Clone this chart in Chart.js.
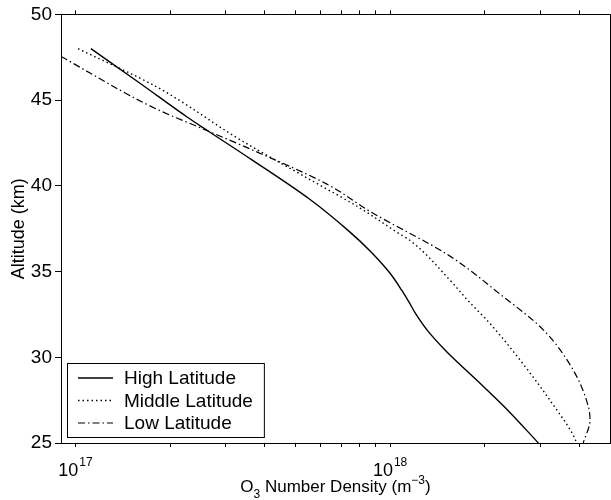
<!DOCTYPE html>
<html>
<head>
<meta charset="utf-8">
<script src="https://cdn.jsdelivr.net/npm/chart.js@4.4.1/dist/chart.umd.min.js"></script>
<style>
    body { margin: 0; background: #fff; }
    #wrap { width: 611px; height: 500px; }
</style>
</head>
<body>
<div id="wrap"><canvas id="ozone-chart" width="611" height="500"></canvas></div>
<script>
// Ozone profiles: altitude (km) and O3 number density (m^-3)
var highAlt = [48.0, 46.0, 44.0, 43.2, 41.5, 39.2, 37.3, 36.2, 34.9, 33.9, 33.2, 32.5, 31.6, 30.4, 28.3, 26.9, 25.0];
var highDensity = [1.12e17, 1.60e17, 2.27e17, 2.64e17, 3.65e17, 5.57e17, 7.46e17, 8.64e17, 1.00e18, 1.09e18, 1.15e18, 1.21e18, 1.31e18, 1.50e18, 1.98e18, 2.37e18, 2.96e18];

var midAlt = [48.0, 45.8, 42.6, 40.5, 38.7, 37.3, 36.8, 34.5, 33.3, 32.0, 29.6, 27.5, 25.3, 25.0];
var midDensity = [1.02e17, 1.80e17, 3.40e17, 5.40e17, 8.03e17, 1.05e18, 1.16e18, 1.55e18, 1.77e18, 2.07e18, 2.65e18, 3.22e18, 3.86e18, 3.91e18];

var lowAlt = [47.55, 47.35, 44.5, 43.2, 42.0, 40.1, 38.5, 35.9, 33.7, 31.6, 29.25, 27.1, 26.35, 25.0];
var lowDensity = [9.0e16, 9.4e16, 1.80e17, 2.64e17, 3.75e17, 6.3e17, 8.65e17, 1.55e18, 2.23e18, 3.07e18, 3.82e18, 4.27e18, 4.32e18, 4.11e18];

var seriesLabels = ['High Latitude', 'Middle Latitude', 'Low Latitude'];

// axis ticks
var xTickMarks = [1e17, 2e17, 3e17, 4e17, 5e17, 6e17, 7e17, 8e17, 9e17, 1e18, 2e18, 3e18, 4e18];
var xTickLabels = [1e17, 1e18];
var xTickExponents = ['17', '18'];
var yTickValues = [25, 30, 35, 40, 45, 50];

var FONT = "'Liberation Sans', Arial, Helvetica, sans-serif";

function toPoints(xs, ys) {
    var pts = [];
    for (var i = 0; i < xs.length; i++) {
        pts.push({ x: xs[i], y: ys[i] });
    }
    return pts;
}

function setTicks(values) {
    return function(scale) {
        scale.ticks = values.map(function(v) { return { value: v }; });
    };
}

// draws the superscript tick labels, axis titles and the boxed legend
var labelsPlugin = {
    id: 'labelsPlugin',
    afterDraw: function(chart) {
        var ctx = chart.ctx;
        var area = chart.chartArea;
        var xs = chart.scales.x;
        ctx.save();
        ctx.fillStyle = '#000';
        ctx.strokeStyle = '#000';
        ctx.textBaseline = 'alphabetic';
        ctx.textAlign = 'left';

        // 10^n tick labels
        for (var i = 0; i < xTickLabels.length; i++) {
            var px = xs.getPixelForValue(xTickLabels[i]);
            ctx.font = '18px ' + FONT;
            var w1 = ctx.measureText('10').width;
            ctx.font = '12px ' + FONT;
            var w2 = ctx.measureText(xTickExponents[i]).width;
            var left = px - (w1 + w2 + 1) / 2;
            ctx.font = '18px ' + FONT;
            ctx.fillText('10', left, 476);
            ctx.font = '12px ' + FONT;
            ctx.fillText(xTickExponents[i], left + w1 + 1, 466);
        }

        // x axis title with sub/superscripts
        var pieces = [
            { t: 'O', size: 17, dy: 0 },
            { t: '3', size: 12, dy: 6 },
            { t: ' Number Density (m', size: 17, dy: 0 },
            { t: '\u22123', size: 12, dy: -8 },
            { t: ')', size: 17, dy: 0 }
        ];
        var total = 0;
        pieces.forEach(function(p) {
            ctx.font = p.size + 'px ' + FONT;
            p.w = ctx.measureText(p.t).width;
            total += p.w;
        });
        var tx = (area.left + area.right) / 2 - total / 2;
        pieces.forEach(function(p) {
            ctx.font = p.size + 'px ' + FONT;
            ctx.fillText(p.t, tx, 492 + p.dy);
            tx += p.w;
        });

        // y axis title
        ctx.save();
        ctx.translate(19, (area.top + area.bottom) / 2);
        ctx.rotate(-Math.PI / 2);
        ctx.textAlign = 'center';
        ctx.textBaseline = 'middle';
        ctx.font = '18px ' + FONT;
        ctx.fillText('Altitude (km)', 0, 0);
        ctx.restore();

        // legend
        var rowsY = [378, 400.5, 423];
        ctx.font = '19px ' + FONT;
        var maxW = 0;
        chart.data.datasets.forEach(function(ds) {
            maxW = Math.max(maxW, ctx.measureText(ds.label).width);
        });
        var boxLeft = 67, boxTop = 363, boxBottom = 437;
        var textX = 124;
        var boxW = textX + maxW + 11 - boxLeft;
        ctx.fillStyle = '#fff';
        ctx.fillRect(boxLeft, boxTop, boxW, boxBottom - boxTop);
        ctx.lineWidth = 1;
        ctx.strokeRect(boxLeft + 0.5, boxTop + 0.5, boxW, boxBottom - boxTop);
        ctx.fillStyle = '#000';
        ctx.textBaseline = 'middle';
        chart.data.datasets.forEach(function(ds, k) {
            ctx.beginPath();
            ctx.setLineDash(ds.borderDash || []);
            ctx.lineWidth = ds.borderWidth;
            ctx.moveTo(78, rowsY[k]);
            ctx.lineTo(113, rowsY[k]);
            ctx.stroke();
            ctx.setLineDash([]);
            ctx.fillText(ds.label, textX, rowsY[k] + 1);
        });
        ctx.restore();
    }
};

var axisLine = { display: true, color: '#000', width: 1 };

var chart = new Chart(document.getElementById('ozone-chart').getContext('2d'), {
    type: 'line',
    data: {
        datasets: [{
            label: seriesLabels[0],
            data: toPoints(highDensity, highAlt),
            borderColor: '#000',
            borderWidth: 1.4,
            pointRadius: 0,
            cubicInterpolationMode: 'monotone',
            fill: false
        }, {
            label: seriesLabels[1],
            data: toPoints(midDensity, midAlt),
            borderColor: '#000',
            borderWidth: 1.4,
            borderDash: [1.5, 3],
            pointRadius: 0,
            cubicInterpolationMode: 'monotone',
            fill: false
        }, {
            label: seriesLabels[2],
            data: toPoints(lowDensity, lowAlt),
            borderColor: '#000',
            borderWidth: 1.2,
            borderDash: [7, 3, 1.5, 3],
            pointRadius: 0,
            cubicInterpolationMode: 'monotone',
            fill: false
        }]
    },
    options: {
        indexAxis: 'y',
        responsive: false,
        animation: false,
        devicePixelRatio: 1,
        layout: { padding: 0 },
        plugins: {
            legend: { display: false },
            tooltip: { enabled: false }
        },
        scales: {
            x: {
                type: 'logarithmic',
                position: 'bottom',
                min: 9e16,
                max: 5e18,
                afterBuildTicks: setTicks(xTickMarks),
                afterFit: function(scale) { scale.height = 57; },
                ticks: { display: false },
                grid: { drawOnChartArea: false, drawTicks: true, tickLength: 4, color: '#000' },
                border: axisLine
            },
            x2: {
                type: 'logarithmic',
                position: 'top',
                min: 9e16,
                max: 5e18,
                afterBuildTicks: setTicks(xTickMarks),
                afterFit: function(scale) { scale.height = 13; },
                ticks: { display: false },
                grid: { drawOnChartArea: false, drawTicks: true, tickLength: 4, color: '#000' },
                border: axisLine
            },
            y: {
                type: 'linear',
                position: 'left',
                min: 25,
                max: 50,
                afterBuildTicks: setTicks(yTickValues),
                afterFit: function(scale) { scale.width = 61; },
                ticks: {
                    color: '#000',
                    padding: 3,
                    font: { family: FONT, size: 19 }
                },
                grid: { drawOnChartArea: false, drawTicks: true, tickLength: 6, color: '#000' },
                border: axisLine
            },
            y2: {
                type: 'linear',
                position: 'right',
                min: 25,
                max: 50,
                afterBuildTicks: setTicks(yTickValues),
                afterFit: function(scale) { scale.width = 1; },
                ticks: { display: false },
                grid: { drawOnChartArea: false, drawTicks: false, color: '#000' },
                border: axisLine
            }
        }
    },
    plugins: [labelsPlugin]
});
</script>
</body>
</html>
